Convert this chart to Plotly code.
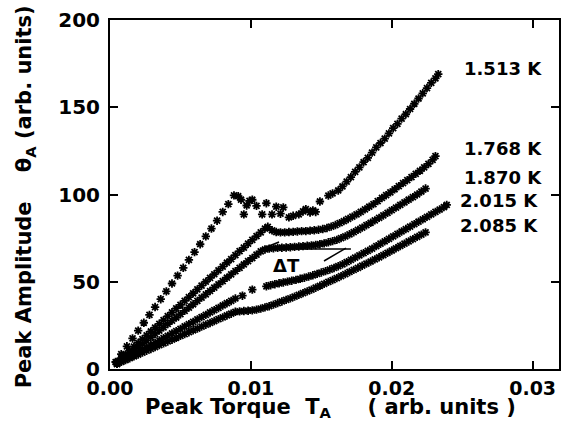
import plotly.graph_objects as go

# ---------------- data ----------------
temps = ["1.513 K", "1.768 K", "1.870 K", "2.015 K", "2.085 K"]

x_1513 = [0.0004, 0.0008, 0.0012, 0.0016, 0.0020, 0.0024, 0.0028, 0.0032, 0.0036, 0.0040,
          0.0044, 0.0048, 0.0052, 0.0056, 0.0060, 0.0064, 0.0068, 0.0072, 0.0076, 0.0080,
          0.0084, 0.0088, 0.0091,
          0.0093, 0.0095, 0.0097, 0.0099, 0.0101, 0.0104, 0.0108, 0.0111, 0.0115, 0.0118,
          0.0121, 0.0123, 0.0127, 0.0130, 0.0134, 0.0137, 0.0139, 0.0142, 0.0144, 0.0146,
          0.0149, 0.0155, 0.0158, 0.0162, 0.0165, 0.0168,
          0.0171, 0.0174, 0.0177, 0.0180, 0.0183, 0.0186, 0.0189, 0.0192, 0.0195, 0.0198,
          0.0201, 0.0204, 0.0207, 0.0210, 0.0213, 0.0216, 0.0219, 0.0222, 0.0225, 0.0228,
          0.0231, 0.0233]
y_1513 = [4, 8.5, 13, 17.5, 22, 26.5, 31, 35.5, 40, 44.5,
          49, 53.5, 58, 62.5, 67, 71.5, 76, 80.5, 85, 90,
          94.5, 99.5, 99,
          97, 88.6, 93.7, 96.3, 97, 93.5, 88.6, 95, 88.6, 93,
          89, 92.6, 86.9, 87.8, 88.6, 90.3, 91.6, 89.7, 90.9, 90,
          96, 99.4, 100.6, 102.3, 104.6, 107.4,
          110, 113, 115.5, 118.5, 121, 124, 127, 129.5, 132, 135,
          138, 140.5, 143.5, 146, 149, 152, 155, 158, 161, 164,
          166.5, 169]

x_1768 = [0.0005, 0.0008, 0.0011, 0.0014, 0.0017, 0.0020, 0.0023, 0.0026, 0.0029, 0.0032,
          0.0035, 0.0038, 0.0041, 0.0044, 0.0047, 0.0050, 0.0053, 0.0056, 0.0059, 0.0062,
          0.0065, 0.0068, 0.0071, 0.0074, 0.0077, 0.0080, 0.0083, 0.0086, 0.0089, 0.0092,
          0.0095, 0.0098, 0.0101, 0.0104, 0.0107, 0.0110,
          0.0112, 0.0115, 0.0118, 0.0121, 0.0124, 0.0127, 0.0130, 0.0133, 0.0136, 0.0139,
          0.0142, 0.0145, 0.0148, 0.0151, 0.0154, 0.0157, 0.0160, 0.0163, 0.0166, 0.0169,
          0.0172, 0.0175, 0.0178, 0.0181, 0.0184, 0.0187, 0.0190, 0.0193, 0.0196, 0.0199,
          0.0202, 0.0205, 0.0208, 0.0211, 0.0214, 0.0217, 0.0220, 0.0223, 0.0226, 0.0229,
          0.0231]
y_1768 = [4, 6.2, 8.4, 10.6, 12.8, 15, 17.1, 19.3, 21.5, 23.7,
          25.9, 28, 30.3, 32.5, 34.7, 36.8, 39, 41.2, 43.4, 45.6,
          47.8, 50, 52.2, 54.3, 56.5, 58.7, 60.9, 63, 65.3, 67.5,
          69.6, 71.8, 74, 76.2, 78.3, 80.5,
          81.5, 79.5, 78.5, 78.3, 78.3, 78.5, 78.6, 78.8, 79, 79,
          79.3, 79.5, 79.8, 80.2, 80.8, 81.6, 82.5, 83.6, 84.8, 86,
          87.3, 88.6, 90, 91.5, 93, 94.5, 96.2, 98, 99.6, 101.2,
          103, 104.8, 106.5, 108.2, 110, 111.8, 113.6, 115.5, 117.5, 119.8,
          122]

x_1870 = [0.0005, 0.0008, 0.0011, 0.0014, 0.0017, 0.0020, 0.0023, 0.0026, 0.0029, 0.0032,
          0.0035, 0.0038, 0.0041, 0.0044, 0.0047, 0.0050, 0.0053, 0.0056, 0.0059, 0.0062,
          0.0065, 0.0068, 0.0071, 0.0074, 0.0077, 0.0080, 0.0083, 0.0086, 0.0089, 0.0092,
          0.0095, 0.0098, 0.0101, 0.0104, 0.0107,
          0.0110, 0.0113, 0.0116, 0.0119, 0.0122, 0.0125, 0.0128, 0.0131, 0.0134, 0.0137,
          0.0140, 0.0143, 0.0146, 0.0149, 0.0152, 0.0155, 0.0158, 0.0161, 0.0164, 0.0167,
          0.0170, 0.0173, 0.0176, 0.0179, 0.0182, 0.0185, 0.0188, 0.0191, 0.0194, 0.0197,
          0.0200, 0.0203, 0.0206, 0.0209, 0.0212, 0.0215, 0.0218, 0.0221, 0.0224]
y_1870 = [3, 4.9, 6.8, 8.7, 10.6, 12.5, 14.4, 16.3, 18.2, 20.1,
          22, 23.9, 25.8, 27.7, 29.5, 31.4, 33.3, 35.2, 37.1, 39,
          40.9, 42.8, 44.7, 46.6, 48.5, 50.4, 52.3, 54.2, 56.1, 58,
          59.9, 61.8, 63.6, 65.5, 67.4,
          68.5, 69, 69.2, 69.4, 69.5, 69.6, 69.8, 70, 70.2, 70.4,
          70.6, 70.8, 71.1, 71.5, 72, 72.6, 73.3, 74, 75, 76,
          77.2, 78.4, 79.7, 81, 82.4, 83.8, 85.2, 86.6, 88, 89.5,
          91, 92.5, 94, 95.5, 97, 98.5, 100, 101.7, 103.4]

x_2015 = [0.0005, 0.0008, 0.0011, 0.0014, 0.0017, 0.0020, 0.0023, 0.0026, 0.0029, 0.0032,
          0.0035, 0.0038, 0.0041, 0.0044, 0.0047, 0.0050, 0.0053, 0.0056, 0.0059, 0.0062,
          0.0065, 0.0068, 0.0071, 0.0074, 0.0077, 0.0080, 0.0083, 0.0086, 0.0089,
          0.0094, 0.0101,
          0.0111, 0.0114, 0.0117, 0.0120, 0.0123, 0.0126, 0.0129, 0.0132, 0.0135, 0.0138,
          0.0141, 0.0144, 0.0147, 0.0150, 0.0153, 0.0156, 0.0159, 0.0162, 0.0165, 0.0168,
          0.0171, 0.0174, 0.0177, 0.0180, 0.0183, 0.0186, 0.0189, 0.0192, 0.0195, 0.0198,
          0.0201, 0.0204, 0.0207, 0.0210, 0.0213, 0.0216, 0.0219, 0.0222, 0.0225, 0.0228,
          0.0231, 0.0234, 0.0237, 0.0239]
y_2015 = [3, 4.3, 5.7, 7, 8.3, 9.7, 11, 12.4, 13.7, 15,
          16.4, 17.7, 19, 20.4, 21.7, 23, 24.4, 25.7, 27, 28.4,
          29.7, 31, 32.4, 33.7, 35, 36.4, 37.7, 39, 40.4,
          42, 45.5,
          47.4, 48, 48.6, 49.1, 49.6, 50.1, 50.6, 51.1, 51.7, 52.3,
          53, 53.7, 54.5, 55.3, 56.1, 57, 57.9, 58.9, 60, 61.2,
          62.5, 63.8, 65.1, 66.4, 67.7, 69, 70.4, 71.8, 73.2, 74.6,
          76, 77.4, 78.8, 80.2, 81.6, 83, 84.4, 85.8, 87.2, 88.6,
          90, 91.4, 92.8, 94]

x_2085 = [0.0005, 0.0008, 0.0011, 0.0014, 0.0017, 0.0020, 0.0023, 0.0026, 0.0029, 0.0032,
          0.0035, 0.0038, 0.0041, 0.0044, 0.0047, 0.0050, 0.0053, 0.0056, 0.0059, 0.0062,
          0.0065, 0.0068, 0.0071, 0.0074, 0.0077, 0.0080, 0.0083, 0.0086, 0.0089,
          0.0092, 0.0095, 0.0098, 0.0101, 0.0104, 0.0107, 0.0110, 0.0113, 0.0116, 0.0119,
          0.0122, 0.0125, 0.0128, 0.0131, 0.0134, 0.0137, 0.0140, 0.0143, 0.0146, 0.0149,
          0.0152, 0.0155, 0.0158, 0.0161, 0.0164, 0.0167, 0.0170, 0.0173, 0.0176, 0.0179,
          0.0182, 0.0185, 0.0188, 0.0191, 0.0194, 0.0197, 0.0200, 0.0203, 0.0206, 0.0209,
          0.0212, 0.0215, 0.0218, 0.0221, 0.0224]
y_2085 = [3, 4.1, 5.1, 6.2, 7.3, 8.3, 9.4, 10.5, 11.5, 12.6,
          13.7, 14.7, 15.8, 16.8, 17.9, 19, 20, 21.1, 22.2, 23.2,
          24.3, 25.4, 26.4, 27.5, 28.6, 29.6, 30.7, 31.7, 32.8,
          33, 33.2, 33.4, 33.6, 34, 34.6, 35.3, 36, 36.9, 37.8,
          38.7, 39.6, 40.5, 41.5, 42.5, 43.5, 44.5, 45.5, 46.6, 47.7,
          48.8, 49.9, 51, 52.1, 53.2, 54.4, 55.6, 56.8, 58, 59.2,
          60.4, 61.6, 62.8, 64, 65.3, 66.6, 67.9, 69.2, 70.5, 71.8,
          73.1, 74.4, 75.7, 77, 78.3]

x_ticks = [0.0, 0.01, 0.02, 0.03]
x_ticktext = ["0.00", "0.01", "0.02", "0.03"]
y_ticks = [0, 50, 100, 150, 200]

# label placement (annotation positions, data coordinates)
label_x = [0.02495, 0.02495, 0.02495, 0.02473, 0.02473]
label_y = [172, 126.6, 110, 96.8, 82.5]
dT_text_pos = (0.01251, 59.6)
dT_lines = [((0.01074, 68.8), (0.0171, 68.8)),
            ((0.01074, 68.8), (0.0120, 72.8)),
            ((0.01675, 69.3), (0.01519, 61.9))]

series = [(x_1513, y_1513), (x_1768, y_1768), (x_1870, y_1870),
          (x_2015, y_2015), (x_2085, y_2085)]
for xs, ys in series:
    if len(xs) != len(ys):
        raise ValueError("length mismatch %d %d" % (len(xs), len(ys)))

FONT = "DejaVu Sans"

fig = go.Figure()
for (xs, ys), name in zip(series, temps):
    fig.add_trace(go.Scatter(
        x=xs, y=ys, mode="markers", name=name,
        marker=dict(symbol="asterisk-open", size=7, color="black",
                    line=dict(color="black", width=1.8)),
    ))

annotations = []
for t, lx, ly in zip(temps, label_x, label_y):
    annotations.append(dict(x=lx, y=ly, xref="x", yref="y", text=t, showarrow=False,
                            xanchor="left", yanchor="middle",
                            font=dict(family=FONT, size=18, color="black", weight="bold")))
annotations.append(dict(x=dT_text_pos[0], y=dT_text_pos[1], xref="x", yref="y", text="ΔT",
                        showarrow=False, xanchor="center", yanchor="middle",
                        font=dict(family=FONT, size=18, color="black", weight="bold")))
NB = "\u00a0"
annotations.append(dict(
    x=0.491, y=-0.113, xref="paper", yref="paper",
    text="Peak" + NB + "Torque" + NB * 2 + "T<sub>A</sub>" + NB * 5 + "(" + NB + "arb." + NB + "units" + NB + ")",
    showarrow=False, xanchor="center", yanchor="middle",
    font=dict(family=FONT, size=21, color="black", weight="bold")))
annotations.append(dict(
    x=-0.1885, y=0.493, xref="paper", yref="paper", textangle=-90,
    text="Peak" + NB + "Amplitude" + NB * 4 + "θ<sub>A</sub>" + NB + "(arb." + NB + "units)",
    showarrow=False, xanchor="center", yanchor="middle",
    font=dict(family=FONT, size=21, color="black", weight="bold")))

shapes = []
for (p0, p1) in dT_lines:
    shapes.append(dict(type="line", xref="x", yref="y", x0=p0[0], y0=p0[1], x1=p1[0], y1=p1[1],
                       line=dict(color="black", width=1.5)))

axis_common = dict(showline=True, linecolor="black", linewidth=2, mirror="ticks",
                   ticks="inside", ticklen=8, tickwidth=1.5, tickcolor="black",
                   showgrid=False, zeroline=False)

fig.update_layout(
    width=569, height=437,
    margin=dict(l=110, r=8, t=20, b=68),
    paper_bgcolor="white", plot_bgcolor="white",
    showlegend=False,
    xaxis=dict(range=[0, 0.03187], tickvals=x_ticks, ticktext=x_ticktext,
               ticklabelstandoff=1,
               tickfont=dict(family=FONT, size=19, color="black", weight="bold"),
               **axis_common),
    yaxis=dict(range=[0, 200], tickvals=y_ticks, ticklabelstandoff=4,
               tickfont=dict(family=FONT, size=20, color="black", weight="bold"),
               **axis_common),
    annotations=annotations,
    shapes=shapes,
)

fig.write_html("out.html")
